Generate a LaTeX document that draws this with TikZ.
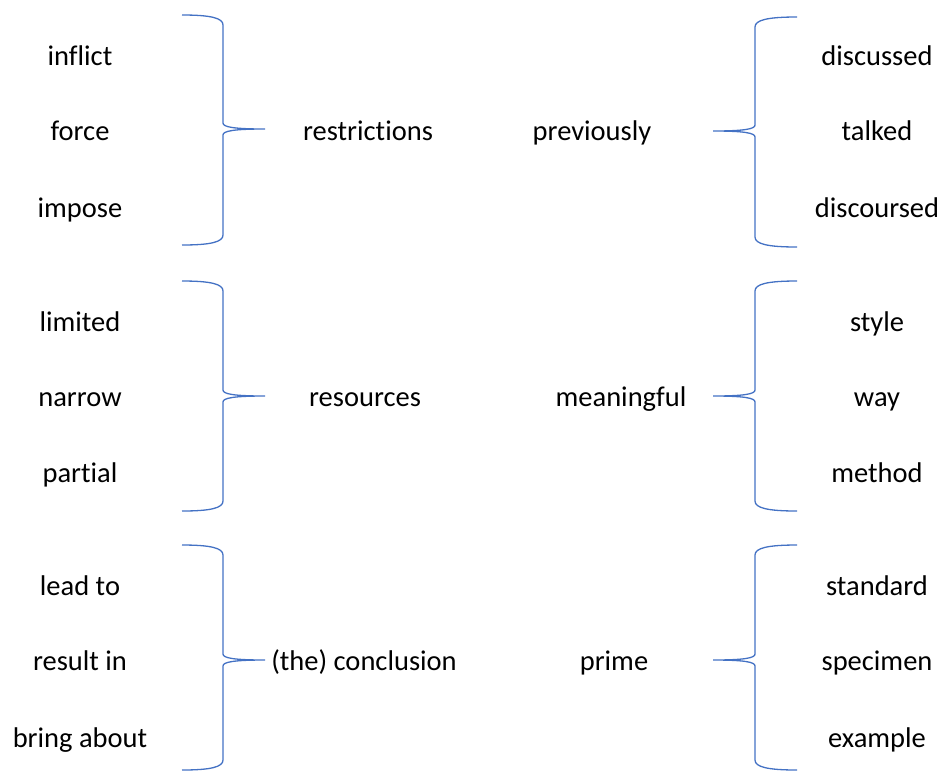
\documentclass[tikz,border=0pt]{standalone}
\usepackage{fontspec}
\setmainfont{Carlito}[Ligatures=NoCommon]
\definecolor{braceblue}{HTML}{4472C4}
% right-facing brace: #1 outer x, #2 spine x, #3 tip x, #4 top y, #5 middle y, #6 bottom y
\newcommand\BraceOpen[6]{%
  \draw[bracestroke] (#1,#4) .. controls ({#1+0.7*(#2-#1)},#4) and (#2,#4+3) .. (#2,#4+10)
    -- (#2,#5-6) .. controls (#2,#5-2) and ({#2+0.25*(#3-#2)},#5) .. (#3,#5)
    .. controls ({#2+0.25*(#3-#2)},#5) and (#2,#5+2) .. (#2,#5+6)
    -- (#2,#6-10) .. controls (#2,#6-3) and ({#1+0.7*(#2-#1)},#6) .. (#1,#6);}
\begin{document}
\begin{tikzpicture}[x=1pt,y=-1pt,
  bracestroke/.style={draw=braceblue,line width=1.3pt},
  word/.style={inner sep=0pt,anchor=base,font=\fontsize{28.5}{34}\selectfont}]
\useasboundingbox (0,0) rectangle (941,772);
% left column
\node[word] (w11) at (80,65) {inflict};
\node[word] (w12) at (80,140) {force};
\node[word] (w13) at (80,217) {impose};
\node[word] (w21) at (80,331) {limited};
\node[word] (w22) at (80,406) {narrow};
\node[word] (w23) at (80,482) {partial};
\node[word] (w31) at (80,595) {lead to};
\node[word] (w32) at (80,670) {result in};
\node[word] (w33) at (80,747) {bring about};
% middle terms
\node[word] (m1) at (368,140) {restrictions};
\node[word] (m2) at (365,406) {resources};
\node[word] (m3) at (364,670) {(the) conclusion};
\node[word] (n1) at (592,140) {previously};
\node[word] (n2) at (621,406) {meaningful};
\node[word] (n3) at (614,670) {prime};
% right column
\node[word] (r11) at (877,65) {discussed};
\node[word] (r12) at (877,140) {talked};
\node[word] (r13) at (877,217) {discoursed};
\node[word] (r21) at (877,331) {style};
\node[word] (r22) at (877,406) {way};
\node[word] (r23) at (877,482) {method};
\node[word] (r31) at (877,595) {standard};
\node[word] (r32) at (877,670) {specimen};
\node[word] (r33) at (877,747) {example};
% braces
\BraceOpen{182}{223}{265}{15}{129}{245}
\BraceOpen{182}{223}{265}{281}{396}{511}
\BraceOpen{182}{223}{265}{545}{660}{770}
\BraceOpen{797}{755}{713}{17}{131}{247}
\BraceOpen{797}{755}{713}{281}{396}{511}
\BraceOpen{797}{755}{713}{545}{660}{770}
\end{tikzpicture}
\end{document}
